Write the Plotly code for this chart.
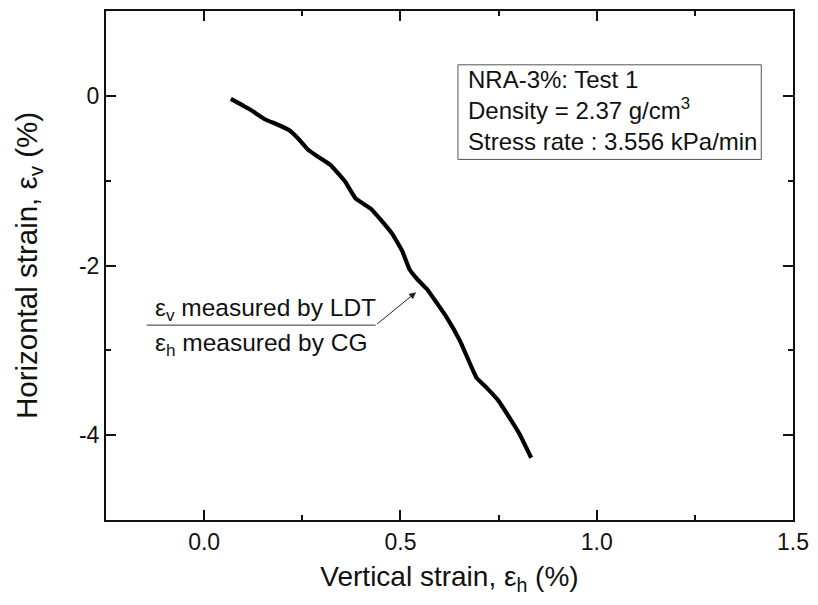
import plotly.graph_objects as go

# Vertical strain (eps_h) vs horizontal strain (eps_v), in percent
strain_h = [0.068, 0.114, 0.157, 0.182, 0.215, 0.240, 0.265, 0.290, 0.321, 0.359,
            0.386, 0.424, 0.449, 0.480, 0.505, 0.523, 0.543, 0.568, 0.593, 0.619,
            0.652, 0.682, 0.694, 0.720, 0.750, 0.778, 0.803, 0.833]
strain_v = [-0.035, -0.153, -0.282, -0.329, -0.400, -0.505, -0.635, -0.717, -0.811, -1.011,
            -1.210, -1.328, -1.457, -1.633, -1.833, -2.045, -2.162, -2.280, -2.444, -2.620,
            -2.891, -3.208, -3.325, -3.443, -3.596, -3.796, -3.984, -4.266]

x_ticks = [0.0, 0.5, 1.0, 1.5]
x_tick_text = ["0.0", "0.5", "1.0", "1.5"]
y_ticks = [0, -2, -4]
y_tick_text = ["0", "-2", "-4"]

FONT = "Arial"
INK = "#111111"

fig = go.Figure()
fig.add_trace(go.Scatter(
    x=strain_h, y=strain_v, mode="lines",
    line=dict(color="black", width=4.2, shape="spline", smoothing=0.3),
    showlegend=False, hoverinfo="skip",
))

axis_common = dict(
    showgrid=False, zeroline=False,
    showline=True, linecolor=INK, linewidth=2, mirror="allticks",
    ticks="inside", ticklen=10, tickwidth=1.5, tickcolor=INK,
    tickfont=dict(family=FONT, size=23, color=INK),
)

fig.update_xaxes(
    range=[-0.25, 1.5], tickmode="array", tickvals=x_ticks, ticktext=x_tick_text,
    minor=dict(dtick=0.25, tick0=0, ticks="inside", ticklen=5, tickwidth=1.5, tickcolor=INK),
    title=dict(text="Vertical strain, ε<sub>h</sub> (%)", font=dict(family=FONT, size=28, color=INK),
               standoff=13),
    **axis_common,
)
fig.update_yaxes(
    range=[-5, 1], tickmode="array", tickvals=y_ticks, ticktext=y_tick_text,
    minor=dict(dtick=1, tick0=0, ticks="inside", ticklen=5, tickwidth=1.5, tickcolor=INK),
    title=dict(text="Horizontal strain, ε<sub>v</sub> (%)", font=dict(family=FONT, size=29.5, color=INK),
               standoff=33),
    **axis_common,
)

# Test information box
fig.add_shape(type="rect", xref="paper", yref="paper", x0=0.5123, x1=0.9538, y0=0.7084, y1=0.8943,
              line=dict(color="#555555", width=1), fillcolor="white", layer="above")
fig.add_annotation(
    xref="paper", yref="paper", x=0.5238, y=0.8053, xanchor="left", yanchor="middle",
    text="NRA-3%: Test 1<br>Density = 2.37 g/cm<sup>3</sup><br>Stress rate : 3.556 kPa/min",
    align="left", showarrow=False,
    font=dict(family=FONT, size=24, color=INK),
)

# Measurement note with leader line and arrow
fig.add_shape(type="line", xref="x", yref="y", x0=-0.146, y0=-2.703, x1=0.437, y1=-2.703,
              line=dict(color="#333333", width=1))
fig.add_annotation(
    x=0.540, y=-2.315, ax=0.437, ay=-2.703, xref="x", yref="y", axref="x", ayref="y",
    text="", showarrow=True, arrowhead=2, arrowsize=1.4, arrowwidth=1, arrowcolor="#222222",
)
fig.add_annotation(
    x=-0.131, y=-2.52, xref="x", yref="y", xanchor="left", yanchor="middle",
    text="ε<sub>v</sub> measured by LDT", showarrow=False,
    font=dict(family=FONT, size=24.5, color=INK),
)
fig.add_annotation(
    x=-0.131, y=-2.93, xref="x", yref="y", xanchor="left", yanchor="middle",
    text="ε<sub>h</sub> measured by CG", showarrow=False,
    font=dict(family=FONT, size=24.5, color=INK),
)

fig.update_layout(
    width=818, height=605,
    margin=dict(l=106, r=19, t=9, b=85),
    paper_bgcolor="white", plot_bgcolor="white",
    font=dict(family=FONT, color=INK),
)

fig.write_html("out.html")
